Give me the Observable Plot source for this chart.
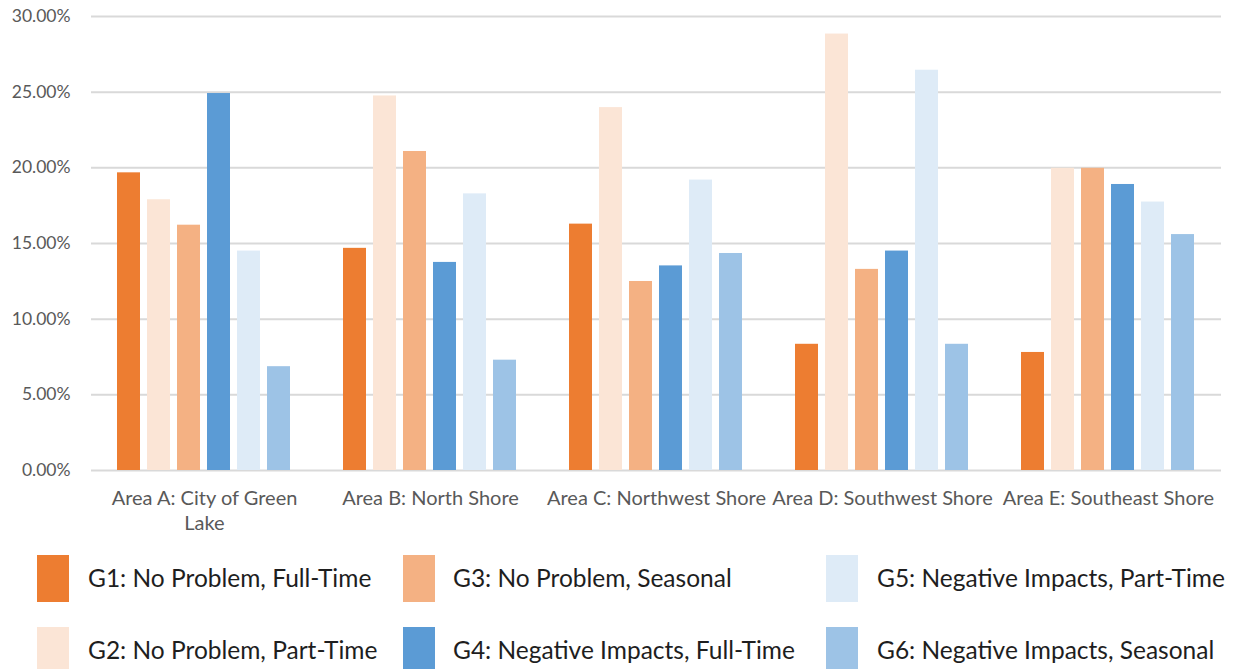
<!DOCTYPE html>
<html>
<head>
<meta charset="utf-8">
<script src="https://cdn.jsdelivr.net/npm/d3@7"></script>
<script src="https://cdn.jsdelivr.net/npm/@observablehq/plot@0.6"></script>
<style>
  html, body { margin: 0; padding: 0; background: #fff; }
  #wrap { width: 1234px; height: 669px; position: relative; overflow: hidden; font-family: Lato, "Noto Sans", sans-serif; }
  #legend { position: relative; width: 1234px; height: 124px; }
  .sw { position: absolute; width: 32px; height: 47px; top: 0; }
  .lab { position: absolute; top: 0; line-height: 46px; font-size: 24.5px; color: #1e1e1e; white-space: nowrap; }
</style>
</head>
<body>
<div id="wrap">
  <div id="chart"></div>
  <div id="legend"></div>
</div>
<script>
const areas = [
  "Area A: City of Green Lake",
  "Area B: North Shore",
  "Area C: Northwest Shore",
  "Area D: Southwest Shore",
  "Area E: Southeast Shore"
];
const groups = [
  "G1: No Problem, Full-Time",
  "G2: No Problem, Part-Time",
  "G3: No Problem, Seasonal",
  "G4: Negative Impacts, Full-Time",
  "G5: Negative Impacts, Part-Time",
  "G6: Negative Impacts, Seasonal"
];
const colors = ["#ED7D31", "#FBE5D6", "#F4B183", "#5B9BD5", "#DEEBF7", "#9DC3E6"];
// percent values per group, in area order
const g1 = [19.67, 14.68, 16.28, 8.34, 7.80];
const g2 = [17.89, 24.75, 23.98, 28.84, 19.97];
const g3 = [16.21, 21.08, 12.49, 13.29, 19.97];
const g4 = [24.91, 13.75, 13.52, 14.50, 18.90];
const g5 = [14.50, 18.28, 19.19, 26.45, 17.74];
const g6 = [6.86, 7.29, 14.34, 8.34, 15.59];
const yTicks = [0, 5, 10, 15, 20, 25, 30];

const series = [g1, g2, g3, g4, g5, g6];
const data = [];
groups.forEach((g, gi) => areas.forEach((a, ai) => data.push({area: a, group: g, value: series[gi][ai]})));

const fmtArea = d => d === "Area A: City of Green Lake" ? "Area A: City of Green\nLake" : d;

const chart = Plot.plot({
  width: 1234,
  height: 545,
  marginLeft: 90,
  marginRight: 13,
  marginTop: 16,
  marginBottom: 75,
  style: {fontFamily: "Lato, 'Noto Sans', sans-serif", background: "#fff"},
  fx: {domain: areas, padding: 0, label: null},
  x: {domain: groups, paddingInner: 0.233, paddingOuter: 0.837, axis: null},
  y: {domain: [0, 30], label: null},
  color: {domain: groups, range: colors},
  marks: [
    Plot.ruleY(yTicks, {stroke: "#d9d9d9", strokeWidth: 2}),
    Plot.barY(data, {fx: "area", x: "group", y: "value", fill: "group"}),
    Plot.axisY({ticks: yTicks, tickSize: 0, tickPadding: 21, tickFormat: d => d.toFixed(2) + "%", fontSize: 17.5, fill: "#595959", label: null}),
    Plot.axisFx({anchor: "bottom", tickSize: 0, tickPadding: 17, tickFormat: fmtArea, fontSize: 20, fill: "#595959", lineHeight: 1.25, label: null})
  ]
});
document.getElementById("chart").appendChild(chart);

// legend (column-major, 3 columns x 2 rows)
const legend = document.getElementById("legend");
const colX = [37, 403, 826];
const textX = [88, 453, 877];
const rowY = [10, 82];
groups.forEach((g, i) => {
  const c = Math.floor(i / 2), r = i % 2;
  const sw = document.createElement("div");
  sw.className = "sw";
  sw.style.left = colX[c] + "px";
  sw.style.top = rowY[r] + "px";
  sw.style.background = colors[i];
  legend.appendChild(sw);
  const lab = document.createElement("div");
  lab.className = "lab";
  lab.style.left = textX[c] + "px";
  lab.style.top = rowY[r] + "px";
  lab.textContent = g;
  legend.appendChild(lab);
});
</script>
</body>
</html>
